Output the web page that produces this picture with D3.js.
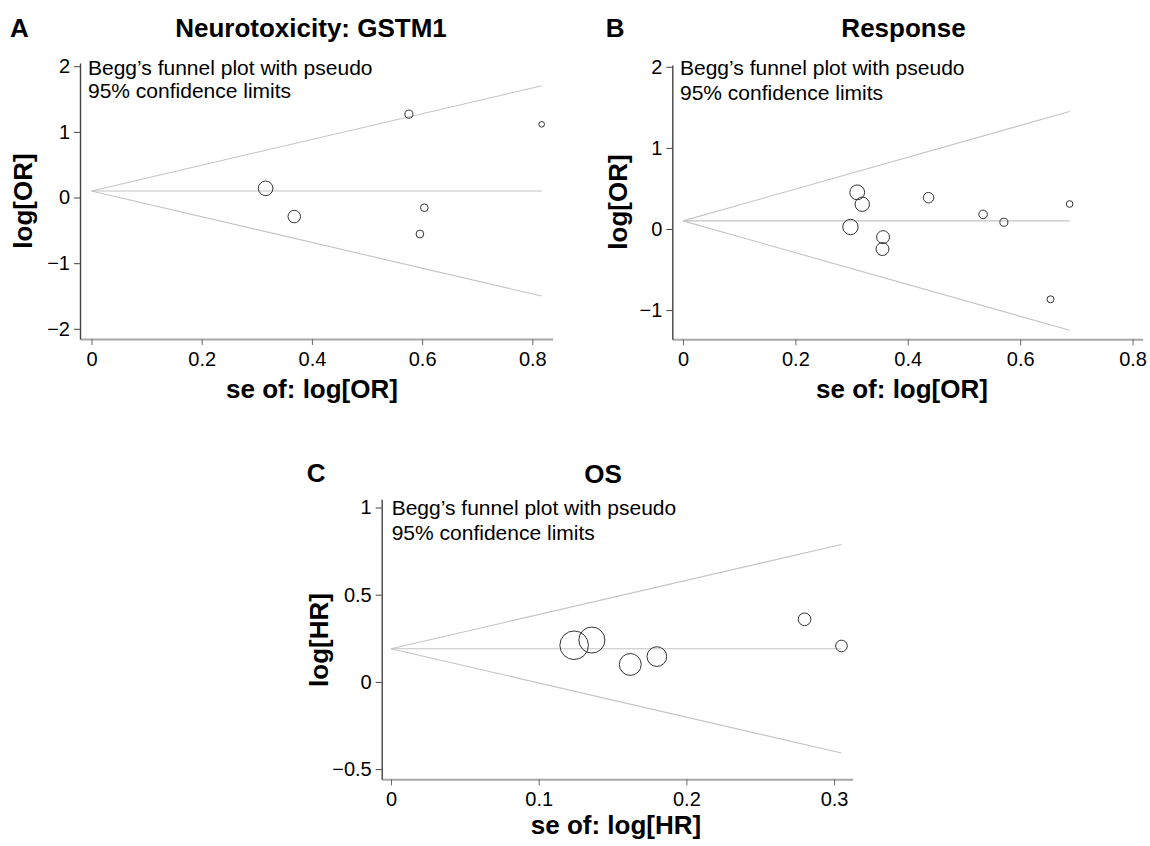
<!DOCTYPE html>
<html>
<head>
<meta charset="utf-8">
<script src="https://cdn.jsdelivr.net/npm/d3@7"></script>
<style>
  body { margin: 0; background: #fff; }
  text { font-family: "Liberation Sans", Arial, Helvetica, sans-serif; fill: #000; }
</style>
</head>
<body>
<script>
// A: Neurotoxicity GSTM1 (log OR vs its se)
var seA = [0.316, 0.368, 0.576, 0.596, 0.604, 0.817];
var logA = [0.14, -0.29, 1.27, -0.556, -0.155, 1.115];
var pooledA = 0.10;
var xTicksA = [0, 0.2, 0.4, 0.6, 0.8];
var yTicksA = [-2, -1, 0, 1, 2];

// B: Response
var seB = [0.298, 0.310, 0.319, 0.355, 0.356, 0.437, 0.534, 0.571, 0.654, 0.688];
var logB = [0.025, 0.452, 0.305, -0.247, -0.10, 0.386, 0.18, 0.083, -0.867, 0.308];
var pooledB = 0.10;
var xTicksB = [0, 0.2, 0.4, 0.6, 0.8];
var yTicksB = [-1, 0, 1, 2];

// C: OS (log HR)
var seC = [0.124, 0.136, 0.162, 0.180, 0.280, 0.305];
var logC = [0.21, 0.24, 0.10, 0.145, 0.359, 0.206];
var pooledC = 0.19;
var xTicksC = [0, 0.1, 0.2, 0.3];
var yTicksC = [-0.5, 0, 0.5, 1];

var note = ["Begg\u2019s funnel plot with pseudo", "95% confidence limits"];

var svg = d3.select("body").append("svg")
    .attr("width", 1150)
    .attr("height", 846);

// layout of each panel (pixels), kept apart from the values
var panels = [
  {letter: "A", title: "Neurotoxicity: GSTM1", se: seA, est: logA, pooled: pooledA,
   xTicks: xTicksA, yTicks: yTicksA, xLabel: "se of: log[OR]", yLabel: "log[OR]",
   box: {l: 80, r: 552.7, t: 63, b: 339}, xDom: [-0.0209, 0.837], yDom: [-2.155, 2.049],
   rMax: 7.3, letterPos: [10, 37], titlePos: [311, 37], notePos: [88, 75, 98],
   xLabPos: [312, 398], yLabPos: [32, 201]},
  {letter: "B", title: "Response", se: seB, est: logB, pooled: pooledB,
   xTicks: xTicksB, yTicks: yTicksB, xLabel: "se of: log[OR]", yLabel: "log[OR]",
   box: {l: 672.3, r: 1142.7, t: 65, b: 339.3}, xDom: [-0.019, 0.818], yDom: [-1.36, 2.022],
   rMax: 7.7, letterPos: [605.7, 37], titlePos: [903.5, 37], notePos: [680, 75, 100],
   xLabPos: [902, 398], yLabPos: [626.5, 202]},
  {letter: "C", title: "OS", se: seC, est: logC, pooled: pooledC,
   xTicks: xTicksC, yTicks: yTicksC, xLabel: "se of: log[HR]", yLabel: "log[HR]",
   box: {l: 381.7, r: 852.7, t: 499.3, b: 779.3}, xDom: [-0.0063, 0.3126], yDom: [-0.5585, 1.047],
   rMax: 14.3, letterPos: [306.7, 482], titlePos: [603, 482.7], notePos: [391.7, 515, 540],
   xLabPos: [616, 834], yLabPos: [328, 640]}
];

var fmt = function(d) { return (d < 0 ? "\u2212" : "") + Math.abs(d); };

function drawPanel(p) {
  var x = d3.scaleLinear().domain(p.xDom).range([p.box.l, p.box.r]);
  var y = d3.scaleLinear().domain(p.yDom).range([p.box.b, p.box.t]);
  var r = d3.scaleLinear().domain([0, 1 / d3.min(p.se)]).range([0, p.rMax]);
  var g = svg.append("g");

  // axes
  var gx = g.append("g")
      .attr("transform", "translate(0," + p.box.b + ")")
      .call(d3.axisBottom(x).tickValues(p.xTicks).tickFormat(fmt)
            .tickSizeInner(6).tickSizeOuter(0).tickPadding(7));
  gx.select(".domain").attr("stroke", "#a8a8a8").attr("stroke-width", 2);
  gx.selectAll(".tick line").attr("stroke", "#666");

  var gy = g.append("g")
      .attr("transform", "translate(" + p.box.l + ",0)")
      .call(d3.axisLeft(y).tickValues(p.yTicks).tickFormat(fmt)
            .tickSizeInner(6).tickSizeOuter(0).tickPadding(4));
  gy.select(".domain").attr("stroke", "#444").attr("stroke-width", 1.4);
  gy.selectAll(".tick line").attr("stroke", "#444");

  g.selectAll(".tick text")
      .attr("font-size", 20)
      .attr("font-family", "'Liberation Sans', Arial, sans-serif")
      .attr("fill", "#000");

  // pseudo 95% limits and pooled estimate
  var maxSe = d3.max(p.se);
  var lines = [
    [p.pooled, p.pooled + 1.96 * maxSe],
    [p.pooled, p.pooled],
    [p.pooled, p.pooled - 1.96 * maxSe]
  ];
  g.selectAll("line.lim").data(lines).enter().append("line")
      .attr("class", "lim")
      .attr("x1", x(0))
      .attr("y1", function(d) { return y(d[0]); })
      .attr("x2", x(maxSe))
      .attr("y2", function(d) { return y(d[1]); })
      .attr("stroke", "#c4c4c4")
      .attr("stroke-width", 1.1);

  // studies
  g.selectAll("circle").data(p.se).enter().append("circle")
      .attr("cx", function(d) { return x(d); })
      .attr("cy", function(d, i) { return y(p.est[i]); })
      .attr("r", function(d) { return r(1 / d); })
      .attr("fill", "none")
      .attr("stroke", "#333")
      .attr("stroke-width", 1);

  // texts
  g.append("text").attr("x", p.letterPos[0]).attr("y", p.letterPos[1])
      .attr("font-size", 26).attr("font-weight", "bold").text(p.letter);
  g.append("text").attr("x", p.titlePos[0]).attr("y", p.titlePos[1])
      .attr("text-anchor", "middle")
      .attr("font-size", 26).attr("font-weight", "bold").text(p.title);
  g.append("text").attr("x", p.notePos[0]).attr("y", p.notePos[1])
      .attr("font-size", 21).text(note[0]);
  g.append("text").attr("x", p.notePos[0]).attr("y", p.notePos[2])
      .attr("font-size", 21).text(note[1]);
  g.append("text").attr("x", p.xLabPos[0]).attr("y", p.xLabPos[1])
      .attr("text-anchor", "middle")
      .attr("font-size", 26).attr("font-weight", "bold").text(p.xLabel);
  g.append("text")
      .attr("transform", "translate(" + p.yLabPos[0] + "," + p.yLabPos[1] + ") rotate(-90)")
      .attr("text-anchor", "middle")
      .attr("font-size", 26).attr("font-weight", "bold").text(p.yLabel);
}

panels.forEach(drawPanel);
</script>
</body>
</html>
